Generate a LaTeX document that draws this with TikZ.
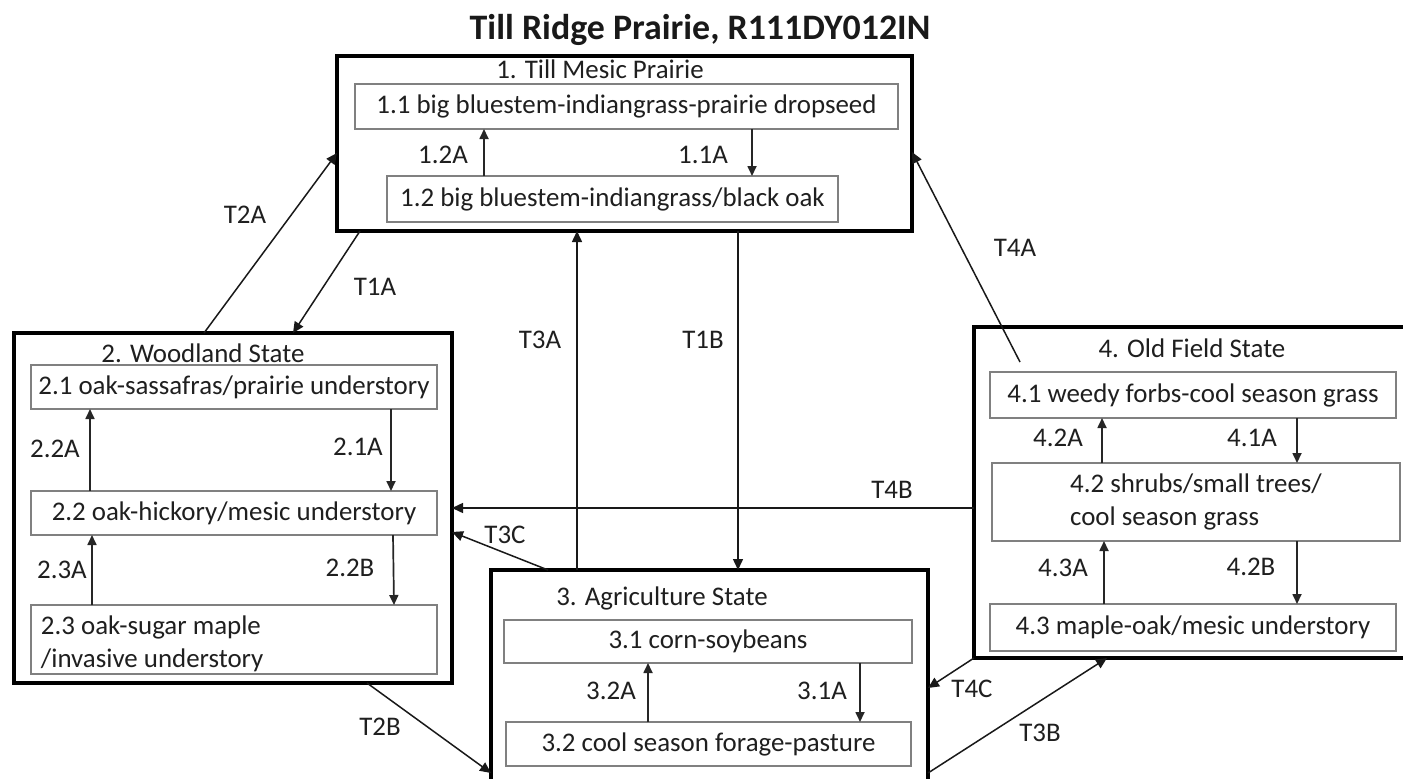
\documentclass[tikz,border=0pt]{standalone}
\usepackage{fontspec}
\setmainfont{Carlito}
\usetikzlibrary{arrows.meta,calc}
\begin{document}
\begin{tikzpicture}[x=1bp,y=-1bp,
  every node/.style={inner sep=0pt, outer sep=0pt, text=black!88, font=\fontsize{27}{33}\selectfont},
  statebox/.style={draw=black, line width=4.5bp},
  subbox/.style={draw=black!50, line width=1.5bp},
  lbl/.style={},
  arr/.style={-{Triangle[length=10bp,width=9bp]}, line width=1.7bp, draw=black!85},
  tarr/.style={-{Triangle[length=11bp,width=10bp]}, line width=1.5bp, draw=black!90}]
\useasboundingbox[fill=white] (0,0) rectangle (1403,778);

% title
\node[font=\fontsize{36}{40}\selectfont\bfseries, text=black!90] (title) at (700,30) {Till Ridge Prairie, R111DY012IN};

% state boxes
\node[statebox, minimum width=575bp, minimum height=175bp] (s1) at (624.5,143.5) {};
\node[statebox, minimum width=438bp, minimum height=350bp] (s2) at (233,508) {};
\node[statebox, minimum width=437bp, minimum height=215bp] (s3) at (709.5,677.5) {};
\node[statebox, minimum width=436bp, minimum height=331bp] (s4) at (1192,492.5) {};

% state titles
\node (t1) at (600,69) {1. Till Mesic Prairie};
\node (t2) at (203,353) {2. Woodland State};
\node (t3) at (662,598) {3. Agriculture State};
\node (t4) at (1192,348) {4. Old Field State};

% community boxes
\node[subbox, minimum width=543bp, minimum height=45bp] (b11) at (626.5,106.5) {1.1 big bluestem-indiangrass-prairie dropseed};
\node[subbox, minimum width=451bp, minimum height=46bp] (b12) at (612.5,199) {1.2 big bluestem-indiangrass/black oak};

\node[subbox, minimum width=406bp, minimum height=44bp] (b21) at (234,387) {2.1 oak-sassafras/prairie understory};
\node[subbox, minimum width=406bp, minimum height=44bp] (b22) at (234,513) {2.2 oak-hickory/mesic understory};
\node[subbox, minimum width=406bp, minimum height=69bp] (b23) at (234,639.5) {};
\node[anchor=west, align=left] (b23t) at ($(b23.west)+(10,4)$) {2.3 oak-sugar maple\\/invasive understory};

\node[subbox, minimum width=408bp, minimum height=43bp] (b31) at (708,641.5) {3.1 corn-soybeans};
\node[subbox, minimum width=405bp, minimum height=44bp] (b32) at (708.5,744) {3.2 cool season forage-pasture};

\node[subbox, minimum width=406bp, minimum height=46bp] (b41) at (1193,395) {4.1 weedy forbs-cool season grass};
\node[subbox, minimum width=408bp, minimum height=78bp, align=left] (b42) at (1196,502) {4.2 shrubs/small trees/\\cool season grass};
\node[subbox, minimum width=406bp, minimum height=47bp] (b43) at (1193,627.5) {4.3 maple-oak/mesic understory};

% community pathways
\draw[arr] (484,0 |- b12.north) -- (484,0 |- b11.south);
\draw[arr] (752,0 |- b11.south) -- (752,0 |- b12.north);
\node[lbl] (l12A) at (443,155) {1.2A};
\node[lbl] (l11A) at (703,155) {1.1A};

\draw[arr] (90,0 |- b22.north) -- (90,0 |- b21.south);
\draw[arr] (391,0 |- b21.south) -- (391,0 |- b22.north);
\draw[arr] (92,0 |- b23.north) -- (92,0 |- b22.south);
\draw[arr] (393,0 |- b22.south) -- (394,0 |- b23.north);
\node[lbl] (l22A) at (55,449) {2.2A};
\node[lbl] (l21A) at (358,447) {2.1A};
\node[lbl] (l23A) at (62,570) {2.3A};
\node[lbl] (l22B) at (350,568) {2.2B};

\draw[arr] (648,0 |- b32.north) -- (648,0 |- b31.south);
\draw[arr] (860,0 |- b31.south) -- (860,0 |- b32.north);
\node[lbl] (l32A) at (611,691) {3.2A};
\node[lbl] (l31A) at (822,691) {3.1A};

\draw[arr] (1102,0 |- b42.north) -- (1102,0 |- b41.south);
\draw[arr] (1297,0 |- b41.south) -- (1297,0 |- b42.north);
\draw[arr] (1104,0 |- b43.north) -- (1104,0 |- b42.south);
\draw[arr] (1297,0 |- b42.south) -- (1297,0 |- b43.north);
\node[lbl] (l42A) at (1058,438) {4.2A};
\node[lbl] (l41A) at (1252,438) {4.1A};
\node[lbl] (l43A) at (1063,568) {4.3A};
\node[lbl] (l42B) at (1251,567) {4.2B};

% transitions
\coordinate (t4start) at ($(b41.north west)+(30,-10)$);
\draw[tarr] (204,0 |- s2.north) -- (s1.west |- 0,153);
\draw[tarr] (360,0 |- s1.south) -- (293,0 |- s2.north);
\draw[tarr] (577,0 |- s3.north) -- (577,0 |- s1.south);
\draw[tarr] (738,0 |- s1.south) -- (738,0 |- s3.north);
\draw[tarr] (t4start) -- (s1.east |- 0,152);
\draw[tarr] (s4.west |- 0,508) -- (s2.east |- 0,508);
\draw[tarr] (548,0 |- s3.north) -- (s2.east |- 0,532);
\draw[tarr] (367,0 |- s2.south) -- (s3.west |- 0,773);
\draw[tarr] (s4.south west) -- (s3.east |- 0,688);
\draw[tarr] (s3.east |- 0,773) -- (1107,0 |- s4.south);

\node[lbl] (lT2A) at (245,215) {T2A};
\node[lbl] (lT1A) at (375,287) {T1A};
\node[lbl] (lT3A) at (540,340) {T3A};
\node[lbl] (lT1B) at (703,340) {T1B};
\node[lbl] (lT4A) at (1015,248) {T4A};
\node[lbl] (lT4B) at (892,490) {T4B};
\node[lbl] (lT3C) at (505,535) {T3C};
\node[lbl] (lT2B) at (380,727) {T2B};
\node[lbl] (lT4C) at (972,689) {T4C};
\node[lbl] (lT3B) at (1040,733) {T3B};
\end{tikzpicture}
\end{document}
